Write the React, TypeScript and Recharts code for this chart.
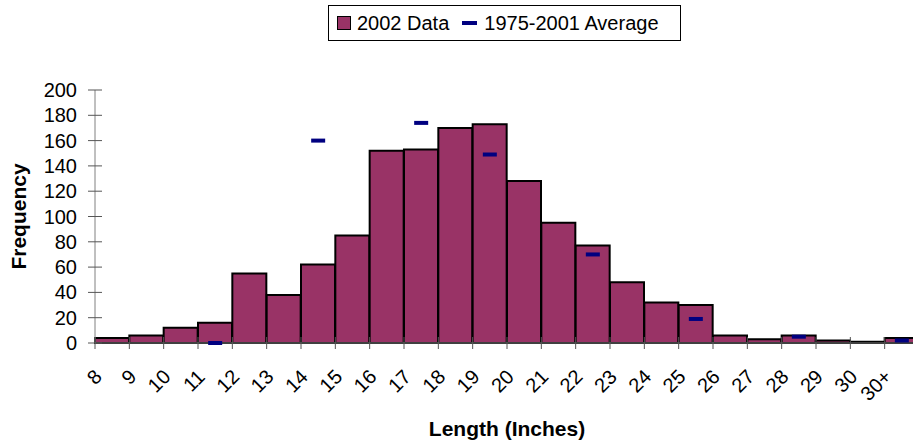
import React from 'react';
import {
  ComposedChart,
  Bar,
  Line,
  XAxis,
  YAxis,
  Legend,
  Label,
} from 'recharts';

const lengths = ['8', '9', '10', '11', '12', '13', '14', '15', '16', '17', '18', '19', '20', '21', '22', '23', '24', '25', '26', '27', '28', '29', '30', '30+'];
const counts2002 = [4, 6, 12, 16, 55, 38, 62, 85, 152, 153, 170, 173, 128, 95, 77, 48, 32, 30, 6, 3, 6, 2, 1, 4];
const average7501: (number | null)[] = [null, null, null, 0, null, null, 160, null, null, 174, null, 149, null, null, 70, null, null, 19, null, null, 5, null, null, 2];
const yTicks = [0, 20, 40, 60, 80, 100, 120, 140, 160, 180, 200];

const data = lengths.map((len, i) => ({
  len,
  count: counts2002[i],
  avg: average7501[i],
}));

const FONT = '"Liberation Sans", Arial, sans-serif';
const PLUM = '#993366';
const NAVY = '#000080';

const CHART_W = 925;
const CHART_H = 442;
const margin = { top: 90, right: 6, bottom: 0, left: 0 };
const Y_AXIS_W = 95;
const X_AXIS_H = 99;
const halfBand = (CHART_W - margin.left - margin.right - Y_AXIS_W) / lengths.length / 2;

function LengthTick(props: any) {
  const { x, y, payload } = props;
  const lx = x - 9;
  const ly = y + 35;
  return (
    <g>
      <line x1={x - halfBand} x2={x - halfBand} y1={y - 6} y2={y + 6} stroke="#555" strokeWidth={1} />
      <text
        x={lx}
        y={ly}
        textAnchor="end"
        transform={`rotate(-45, ${lx}, ${ly})`}
        fontFamily={FONT}
        fontSize={20}
        fill="#000"
      >
        {payload.value}
      </text>
    </g>
  );
}

// y ticks cross the axis line, like the Excel original
function FreqTick(props: any) {
  const { x, y, payload } = props;
  const axisX = x + 18;
  return (
    <g>
      <line x1={axisX - 7} x2={axisX + 7} y1={y} y2={y} stroke="#555" strokeWidth={1} />
      <text x={x} y={y} textAnchor="end" dominantBaseline="central" fontFamily={FONT} fontSize={20} fill="#000">
        {payload.value}
      </text>
    </g>
  );
}

function AvgDash(props: any) {
  const { cx, cy, value, index } = props;
  if (value == null || cy == null) return <g key={`d${index}`} />;
  return <rect key={`d${index}`} x={cx - 7} y={cy - 2} width={14} height={4} fill={NAVY} />;
}

function FreqLabel(props: any) {
  const { x, y, height } = props.viewBox;
  const cx = x + 18;
  const cy = y + height / 2;
  return (
    <text
      x={cx}
      y={cy}
      textAnchor="middle"
      dominantBaseline="central"
      transform={`rotate(-90, ${cx}, ${cy})`}
      fontFamily={FONT}
      fontSize={21}
      fontWeight="bold"
      fill="#000"
    >
      Frequency
    </text>
  );
}

function LengthLabel(props: any) {
  const { x, y, width } = props.viewBox;
  return (
    <text
      x={x + width / 2}
      y={y + 85}
      textAnchor="middle"
      dominantBaseline="central"
      fontFamily={FONT}
      fontSize={21}
      fontWeight="bold"
      fill="#000"
    >
      Length (Inches)
    </text>
  );
}

function LegendBox() {
  return (
    <div
      style={{
        display: 'inline-flex',
        alignItems: 'center',
        height: 34,
        border: '1px solid #000',
        padding: '0 21px 0 8px',
        fontFamily: FONT,
        fontSize: 20,
        color: '#000',
        background: '#fff',
        whiteSpace: 'nowrap',
      }}
    >
      <span style={{ display: 'inline-block', width: 12, height: 12, background: PLUM, border: '1px solid #000', marginRight: 6 }} />
      <span>2002 Data</span>
      <span style={{ display: 'inline-block', width: 15, height: 4, background: NAVY, marginLeft: 13, marginRight: 7 }} />
      <span>1975-2001 Average</span>
    </div>
  );
}

export default function App() {
  return (
    <div style={{ position: 'absolute', left: 0, top: 0, width: 913, height: 442, overflow: 'hidden', background: '#fff' }}>
      <ComposedChart
        width={CHART_W}
        height={CHART_H}
        data={data}
        margin={margin}
        barCategoryGap={0}
        barGap={0}
      >
        <XAxis
          dataKey="len"
          height={X_AXIS_H}
          interval={0}
          axisLine={{ stroke: '#808080' }}
          tickLine={false}
          tickSize={0}
          tickMargin={0}
          tick={<LengthTick />}
        >
          <Label content={<LengthLabel />} />
        </XAxis>
        <YAxis
          width={Y_AXIS_W}
          domain={[0, 200]}
          ticks={yTicks}
          interval={0}
          axisLine={{ stroke: '#808080' }}
          tickLine={false}
          tickSize={7}
          tickMargin={11}
          tick={<FreqTick />}
        >
          <Label content={<FreqLabel />} />
        </YAxis>
        <Legend
          layout="horizontal"
          verticalAlign="middle"
          align="center"
          wrapperStyle={{ top: 5, left: 328, width: 'auto', height: 'auto' }}
          content={<LegendBox />}
        />
        <Bar
          dataKey="count"
          name="2002 Data"
          fill={PLUM}
          stroke="#000"
          strokeWidth={2}
          isAnimationActive={false}
        />
        <Line
          dataKey="avg"
          name="1975-2001 Average"
          stroke="none"
          dot={<AvgDash />}
          activeDot={false}
          connectNulls={false}
          isAnimationActive={false}
        />
      </ComposedChart>
    </div>
  );
}
